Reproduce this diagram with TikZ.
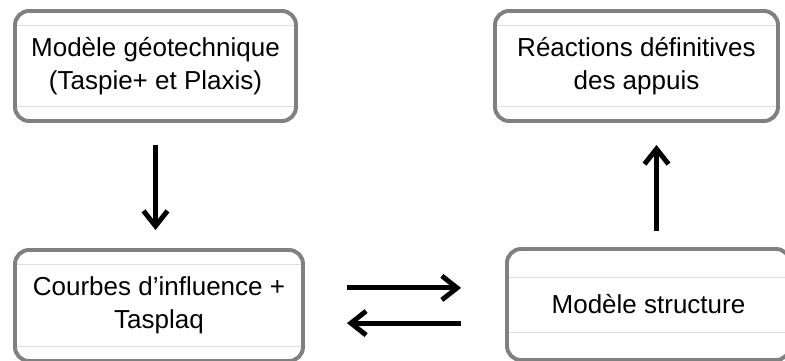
\documentclass[tikz,border=0pt]{standalone}
\usepackage{fontspec}
\setmainfont{Liberation Sans}
\usetikzlibrary{arrows.meta, positioning}
\definecolor{rim}{RGB}{128,128,128}
\definecolor{gloss}{RGB}{222,222,222}

\begin{document}
\begin{tikzpicture}[
    box/.style={rectangle, draw=rim, line width=2.8pt, rounded corners=0.35cm, align=center,
        minimum height=2.75cm, inner sep=0pt, font=\fontsize{18.5}{23.5}\selectfont,
        path picture={
            \draw[gloss, line width=0.6pt] ([yshift=-#1]path picture bounding box.north west) -- ([yshift=-#1]path picture bounding box.north east);
            \draw[gloss, line width=0.6pt] ([yshift=#1]path picture bounding box.south west) -- ([yshift=#1]path picture bounding box.south east);
        }},
    box/.default=0.37cm,
    arrow/.style={-{Straight Barb[length=0.38cm, width=0.6cm]}, line width=3.5pt}
]

\path[use as bounding box] (0,0) rectangle (19.625,9);

\node[box, minimum width=7.025cm] (geo) at (3.8875,7.35)
{Modèle géotechnique\\(Taspie+ et Plaxis)};

\node[box, minimum width=7.075cm] (reac) at (15.9125,7.35)
{Réactions définitives\\des appuis};

\node[box, minimum width=7.2cm, minimum height=2.775cm] (courbes) at (3.975,1.3625)
{Courbes d’influence +\\Tasplaq};

\node[box=0.7cm, minimum width=7.075cm, minimum height=2.775cm] (struct) at (16.2125,1.3875)
{Modèle structure};

\draw[arrow, shorten <=0.55cm, shorten >=0.45cm] (geo.south) -- (geo.south |- courbes.north);
\draw[arrow, shorten <=0.4cm, shorten >=0.55cm] ([xshift=0.2cm]struct.north) -- ([xshift=0.2cm]struct.north |- reac.south);

\draw[arrow, shorten <=1.05cm, shorten >=1.1cm] ([yshift=0.44cm]courbes.east) -- ([yshift=0.44cm]courbes.east -| struct.west);
\draw[arrow, shorten <=1.1cm, shorten >=1.05cm] ([yshift=-0.44cm]courbes.east -| struct.west) -- ([yshift=-0.44cm]courbes.east);

\end{tikzpicture}
\end{document}
